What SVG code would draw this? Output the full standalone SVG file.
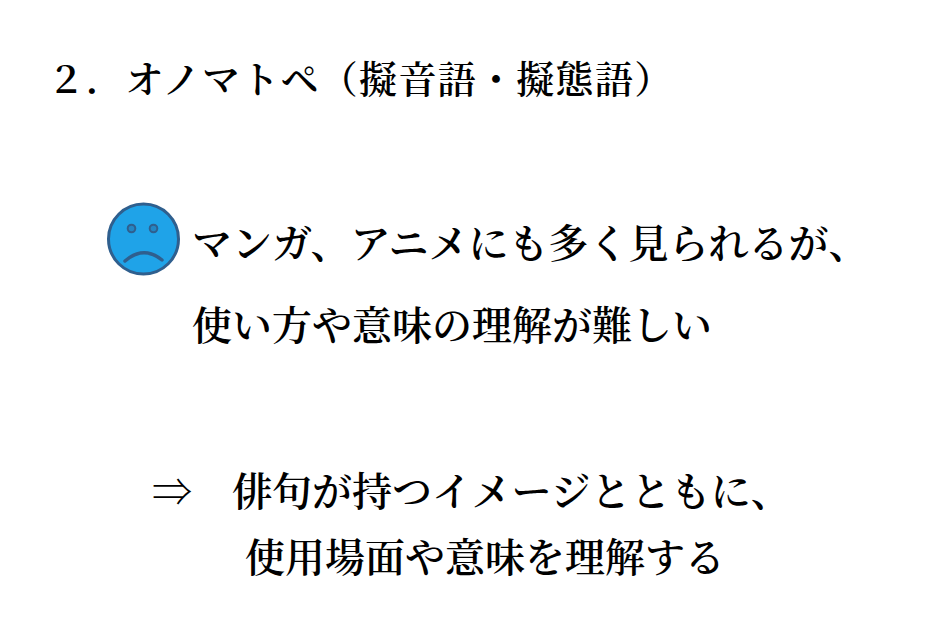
<svg xmlns="http://www.w3.org/2000/svg" width="925" height="644" viewBox="0 0 925 644">
  <style>
    .t { font-family: "Noto Serif CJK JP", "Noto Sans CJK JP", serif; fill: #000; font-weight: 600; }
    .title { font-size: 38px; letter-spacing: 1.3px; }
    .body { font-size: 40px; }
    .face { fill: #1FA3E8; stroke: #2F5F8E; stroke-width: 3; }
    .eye { fill: #2386C4; stroke: #2F5F8E; stroke-width: 2; }
    .mouth { fill: none; stroke: #2F5F8E; stroke-width: 3.5; stroke-linecap: round; }
  </style>
  <rect width="925" height="644" fill="#fff"/>
  <g id="title">
    <text class="t title" x="47" y="93">２．オノマトペ（擬音語・擬態語）</text>
  </g>
  <g id="sad-face">
    <circle class="face" cx="143.5" cy="239" r="35"/>
    <circle class="eye" cx="131.5" cy="228.5" r="3.8"/>
    <circle class="eye" cx="153.5" cy="228.5" r="3.8"/>
    <path class="mouth" d="M125,261 Q143.5,245 162,260"/>
  </g>
  <g id="problem">
    <text class="t body" x="192" y="258">マンガ、アニメにも多く見られるが、</text>
    <text class="t body" x="192" y="340">使い方や意味の理解が難しい</text>
  </g>
  <g id="solution">
    <text class="t body" x="152" y="506">⇒　俳句が持つイメージとともに、</text>
    <text class="t body" x="245" y="572">使用場面や意味を理解する</text>
  </g>
</svg>
